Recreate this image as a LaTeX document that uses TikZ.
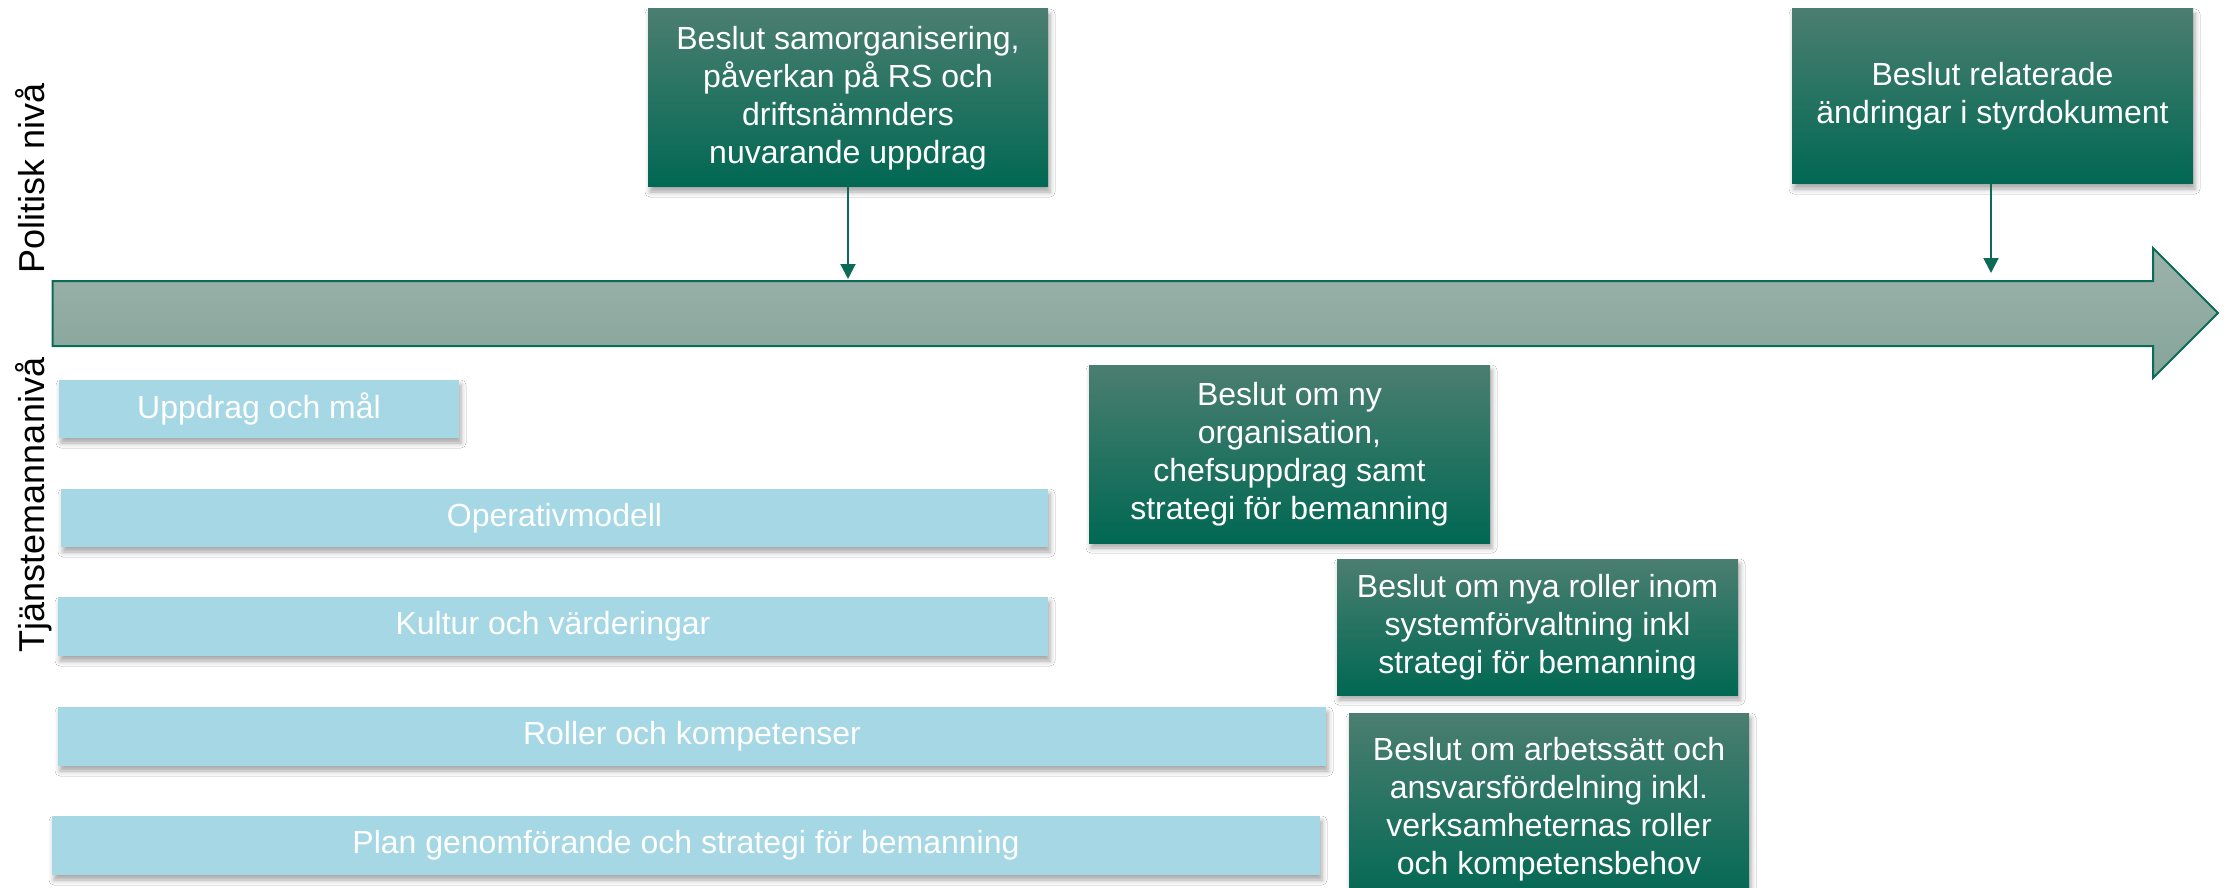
\documentclass[tikz,border=0pt]{standalone}
\usepackage{fontspec}
\setmainfont{Liberation Sans}
\usetikzlibrary{arrows.meta,shadows.blur}
\definecolor{boxtop}{HTML}{4B7E70}
\definecolor{boxdark}{HTML}{006853}
\definecolor{bandtop}{HTML}{9CB2AB}
\definecolor{bandbot}{HTML}{86A59A}
\definecolor{bandline}{HTML}{0B6B57}
\definecolor{barblue}{HTML}{A5D7E4}
\tikzset{
  decbox/.style={rectangle, inner sep=0pt, align=center, text=white,
    top color=boxtop, middle color=boxdark, bottom color=boxdark,
    font=\fontsize{16pt}{19pt}\selectfont,
    blur shadow={shadow xshift=1pt, shadow yshift=-2.5pt, shadow blur radius=2.5pt, shadow opacity=35}},
  barbox/.style={rectangle, inner sep=0pt, fill=barblue, text=white,
    font=\fontsize{16pt}{19pt}\selectfont,
    blur shadow={shadow xshift=1pt, shadow yshift=-2.5pt, shadow blur radius=2.5pt, shadow opacity=35}},
  sidelabel/.style={rotate=90, anchor=base, inner sep=0pt,
    font=\fontsize{18pt}{21pt}\selectfont},
  conn/.style={draw=bandline, line width=1pt, -{Triangle[length=7.5pt,width=7.5pt]}}
}
\begin{document}
\begin{tikzpicture}[x=0.5pt,y=-0.5pt]
\clip (0,0) rectangle (2229,888);
\fill[white] (0,0) rectangle (2229,888);
% timeline arrow
\draw[bandline, line width=1pt, top color=bandtop, bottom color=bandbot]
  (52.7,281) -- (2153,281) -- (2153,248) -- (2218,313) -- (2153,378) -- (2153,346) -- (52.7,346) -- cycle;
\coordinate (t1) at (848,279);
\coordinate (t2) at (1991,273);
% side labels
\node[sidelabel] (pol) at (44,178) {Politisk nivå};
\node[sidelabel] (tja) at (44,505) {Tjänstemannanivå};
% political decisions
\node[decbox, minimum width=200pt, minimum height=89pt] (b1) at (848,98)
  {Beslut samorganisering,\\påverkan på RS och\\driftsnämnders\\nuvarande uppdrag};
\node[decbox, minimum width=200.5pt, minimum height=87.5pt] (b2) at (1992.5,96.5)
  {Beslut relaterade\\ändringar i styrdokument};
\draw[conn] (b1.south -| t1) -- (t1);
\draw[conn] (b2.south -| t2) -- (t2);
% official level bars
\node[barbox, minimum width=200pt, minimum height=29pt] (r1) at (259,409) {Uppdrag och mål};
\node[barbox, minimum width=493.5pt, minimum height=29pt] (r2) at (554.5,518) {Operativmodell};
\node[barbox, minimum width=495pt, minimum height=29.5pt] (r3) at (553,626.5) {Kultur och värderingar};
\node[barbox, minimum width=634pt, minimum height=29.5pt] (r4) at (692,736.5) {Roller och kompetenser};
\node[barbox, minimum width=634pt, minimum height=29.5pt] (r5) at (686,845.5) {Plan genomförande och strategi för bemanning};
% official decisions
\node[decbox, minimum width=200.5pt, minimum height=89pt] (b3) at (1289.5,454)
  {Beslut om ny\\organisation,\\chefsuppdrag samt\\strategi för bemanning};
\node[decbox, minimum width=200.5pt, minimum height=68pt] (b4) at (1537.5,627)
  {Beslut om nya roller inom\\systemförvaltning inkl\\strategi för bemanning};
\node[decbox, minimum width=200pt, minimum height=96pt] (b5) at (1549,809)
  {Beslut om arbetssätt och\\ansvarsfördelning inkl.\\verksamheternas roller\\och kompetensbehov};
\end{tikzpicture}
\end{document}
